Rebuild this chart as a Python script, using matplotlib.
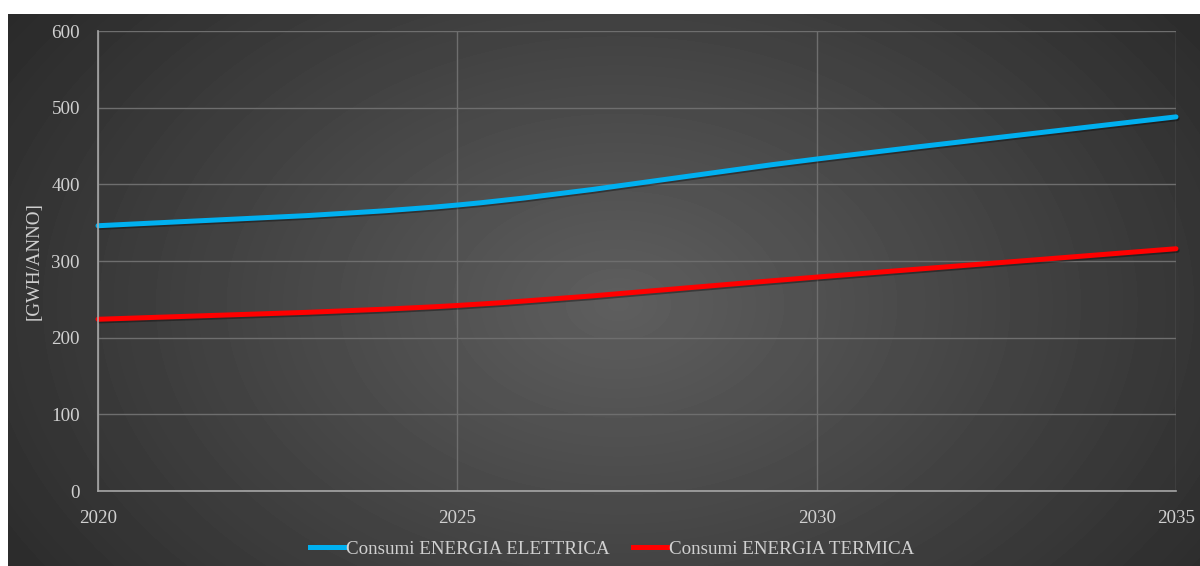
import numpy as np
import matplotlib.pyplot as plt
from matplotlib.path import Path
from matplotlib.patches import PathPatch
from matplotlib.lines import Line2D
import matplotlib.patheffects as pe

plt.rcParams['font.family'] = ['Liberation Serif', 'DejaVu Serif']

anni = [2020, 2025, 2030, 2035]
elettrica = [346, 373, 433, 488]
termica = [224, 242, 279, 316]

fig = plt.figure(figsize=(12, 5.66), dpi=100)
fig.patch.set_facecolor('white')

# dark panel with radial gradient
bg = fig.add_axes([8 / 1200, 0, 1192 / 1200, 552 / 566])
bg.set_axis_off()
yy, xx = np.mgrid[0:552, 0:1192]
r = np.sqrt(((xx - 610) / 760) ** 2 + ((yy - 290) / 520) ** 2)
r = np.clip(r, 0, 1)
shade = 0.37 - (0.37 - 0.16) * r
bg.imshow(shade, cmap='gray', vmin=0, vmax=1, aspect='auto', interpolation='bilinear')

ax = fig.add_axes([98 / 1200, 75 / 566, 1078 / 1200, 460 / 566])
ax.patch.set_alpha(0)
ax.set_xlim(2020, 2035)
ax.set_ylim(0, 600)
ax.set_xticks(anni)
ax.set_yticks(range(0, 601, 100))
ax.grid(True, color='#6e6e6e', linewidth=1)
ax.set_axisbelow(True)
for side in ['top', 'right']:
    ax.spines[side].set_visible(False)
for side in ['left', 'bottom']:
    ax.spines[side].set_color('#a6a6a6')
    ax.spines[side].set_linewidth(1.2)
ax.tick_params(length=0, labelsize=13.7, colors='#d0d0d0')
ax.tick_params(axis='y', pad=13)
ax.tick_params(axis='x', pad=14)
ax.set_ylabel('[GWH/ANNO]', fontsize=13.7, color='#d0d0d0', labelpad=6)


def smooth_path(xs, ys):
    # Excel-style smoothed line: cubic Bezier segments through the points
    pts = np.column_stack([xs, ys]).astype(float)
    ext = np.vstack([pts[0], pts, pts[-1]])
    verts = [pts[0]]
    codes = [Path.MOVETO]
    for i in range(len(pts) - 1):
        p0, p1, p2, p3 = ext[i], ext[i + 1], ext[i + 2], ext[i + 3]
        c1 = p1 + (p2 - p0) / 6
        c2 = p2 - (p3 - p1) / 6
        verts += [c1, c2, p2]
        codes += [Path.CURVE4] * 3
    return Path(verts, codes)


shadow = [pe.SimpleLineShadow(offset=(0.8, -1.2), shadow_color='black', alpha=0.35), pe.Normal()]
for vals, col in [(elettrica, '#00b0f0'), (termica, '#ff0000')]:
    ax.add_patch(PathPatch(smooth_path(anni, vals), fill=False, edgecolor=col,
                           linewidth=3.6, capstyle='round', path_effects=shadow,
                           clip_on=False))

handles = [Line2D([], [], color='#00b0f0', lw=3.6),
           Line2D([], [], color='#ff0000', lw=3.6)]
leg = fig.legend(handles, ['Consumi ENERGIA ELETTRICA', 'Consumi ENERGIA TERMICA'],
                 loc='center', bbox_to_anchor=(612 / 1200, 17 / 566), ncol=2,
                 frameon=False, fontsize=13.7, handlelength=1.85, handletextpad=0.05,
                 columnspacing=1.2)
for t in leg.get_texts():
    t.set_color('#d0d0d0')

fig.savefig('out.png', dpi=100, facecolor='white')
